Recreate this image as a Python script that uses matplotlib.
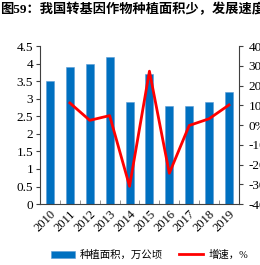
import numpy as np
import matplotlib
matplotlib.use('Agg')
import matplotlib.pyplot as plt
from matplotlib.ticker import FuncFormatter, MultipleLocator, FixedLocator

plt.rcParams['font.family'] = ['Liberation Serif', 'Noto Sans CJK SC']

years = ['2010', '2011', '2012', '2013', '2014', '2015', '2016', '2017', '2018', '2019']
area = [3.5, 3.9, 4.0, 4.2, 2.9, 3.7, 2.8, 2.8, 2.9, 3.2]
growth = [np.nan, 11.2, 2.4, 4.8, -31.0, 27.3, -24.4, -0.2, 3.2, 10.2]

TITLE = '图59：我国转基因作物种植面积少，发展速度慢'
LABEL_AREA = '种植面积，万公顷'
LABEL_GROWTH = '增速，%'

BLUE = '#0070C0'
RED = '#FF0000'


def main():
    fig = plt.figure(figsize=(2.6, 2.65), dpi=100)
    ax = fig.add_axes([0.154, 0.230, 0.765, 0.596])
    x = np.arange(len(years))

    bars = ax.bar(x, area, width=0.4, color=BLUE, edgecolor='#5b9bd5', linewidth=0.4, zorder=2)
    ax.set_xlim(-0.5, len(years) - 0.5)
    ax.set_ylim(0, 4.5)
    ax.yaxis.set_major_locator(MultipleLocator(0.5))
    ax.yaxis.set_major_formatter(FuncFormatter(lambda v, p: f'{v:g}'))
    ax.set_xticks(x)
    ax.set_xticklabels(years, rotation=45, ha='right', rotation_mode='anchor')
    ax.tick_params(axis='x', which='major', length=0, labelsize=9, pad=3)
    ax.xaxis.set_minor_locator(FixedLocator(x[:-1] + 0.5))
    ax.tick_params(axis='x', which='minor', direction='in', length=3, color='#808080')
    ax.tick_params(axis='y', labelsize=9.5, length=3, color='#404040', pad=2)
    ax.spines['top'].set_visible(False)
    ax.spines['right'].set_visible(False)
    for s in ('left', 'bottom'):
        ax.spines[s].set_color('#404040')
        ax.spines[s].set_linewidth(0.8)

    ax2 = ax.twinx()
    line, = ax2.plot(x, growth, color=RED, linewidth=2, zorder=3)
    ax2.set_ylim(-40, 40)
    ax2.yaxis.set_major_locator(MultipleLocator(10))
    ax2.yaxis.set_major_formatter(FuncFormatter(lambda v, p: f'{v:.0f}%'))
    ax2.tick_params(axis='y', labelsize=9.5, length=3, color='#404040', pad=4)
    ax2.spines['top'].set_visible(False)
    ax2.spines['left'].set_visible(False)
    ax2.spines['bottom'].set_visible(False)
    ax2.spines['right'].set_color('#404040')
    ax2.spines['right'].set_linewidth(0.8)

    fig.text(0.0, 0.965, TITLE, fontsize=9.5, fontweight='bold', va='center', ha='left')

    fig.legend([bars, line], [LABEL_AREA, LABEL_GROWTH], loc='center',
               bbox_to_anchor=(0.575, 0.038), ncol=2, frameon=False,
               fontsize=7.5, handlelength=2.3, columnspacing=1.6, handletextpad=0.5)

    fig.savefig('out.png', dpi=100)


if __name__ == '__main__':
    main()
